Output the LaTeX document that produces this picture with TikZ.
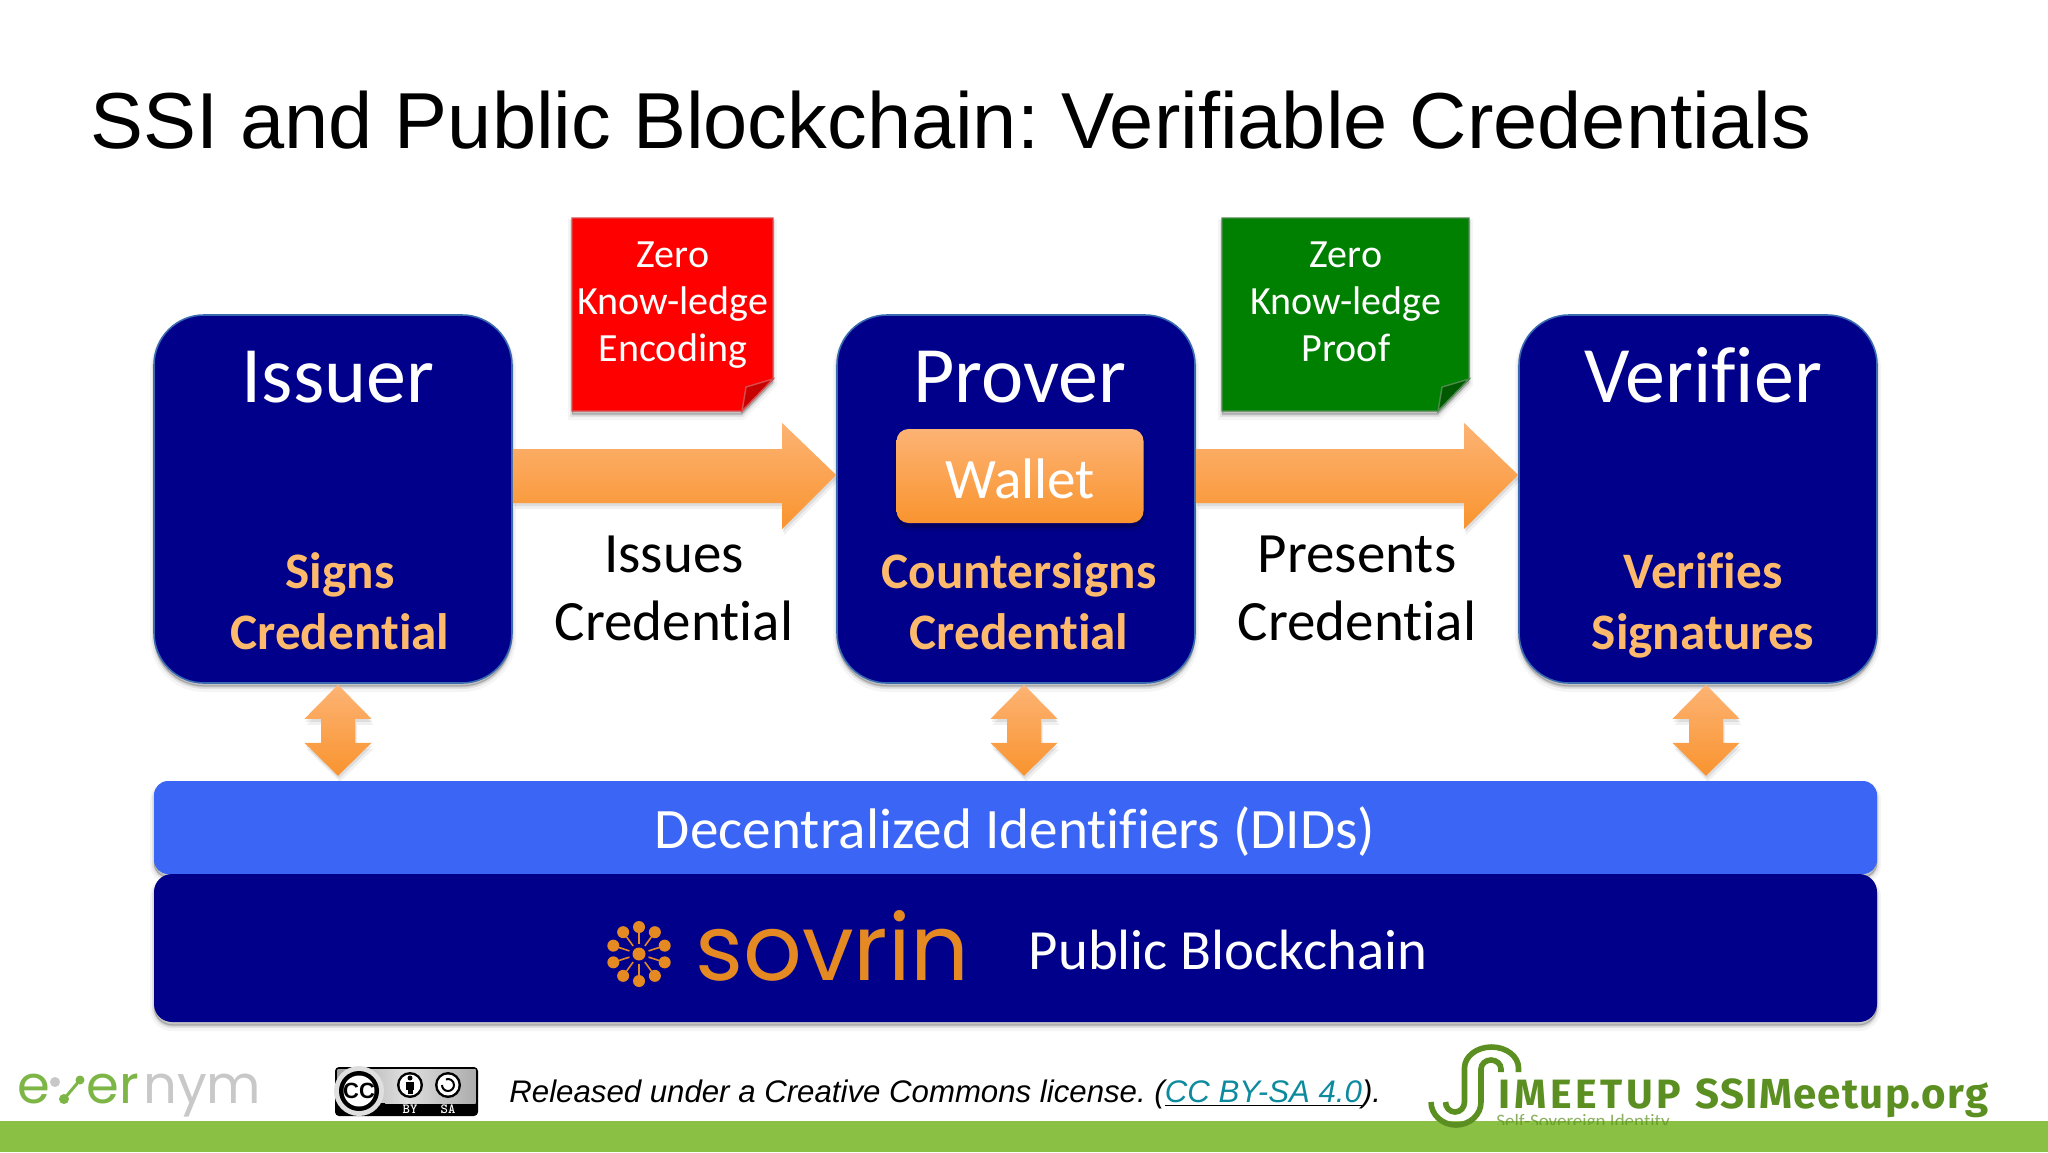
\documentclass[tikz,border=0pt]{standalone}
\usepackage{fontspec}
\usetikzlibrary{calc,shapes.geometric}
\setmainfont[Ligatures=NoCommon]{Carlito}
\newfontfamily\arial{Liberation Sans}
\newfontfamily\pop{Poppins}
\newfontfamily\fira{Fira Sans}
\newfontfamily\firawide[LetterSpace=9]{Fira Sans}
\newfontfamily\firasite[LetterSpace=3]{Fira Sans}
\frenchspacing
\definecolor{navy}{HTML}{00008B}
\definecolor{navyedge}{HTML}{3A6BB0}
\definecolor{didblue}{HTML}{3B66F5}
\definecolor{amber}{HTML}{FDB96C}
\definecolor{ortop}{HTML}{FDB374}
\definecolor{orbot}{HTML}{F9942F}
\definecolor{sovorange}{HTML}{E58A23}
\definecolor{barGreen}{HTML}{8AC043}
\definecolor{logoGreen}{HTML}{5C8F22}
\definecolor{evGreen}{HTML}{7DB646}
\definecolor{evGray}{HTML}{C8C8C8}
\definecolor{linkteal}{HTML}{0E8A9E}
\tikzset{
  softshadow/.style={
    preaction={draw=black,fill=black,opacity=.04,line width=4pt,transform canvas={yshift=-2.5pt}},
    preaction={draw=black,fill=black,opacity=.07,line width=2pt,transform canvas={yshift=-2pt}},
    preaction={draw=black,fill=black,opacity=.10,line width=.5pt,transform canvas={yshift=-1.5pt}}},
  flowshadow/.style={
    preaction={fill=black,opacity=.06,transform canvas={xshift=1pt,yshift=-3pt}},
    preaction={fill=black,opacity=.08,transform canvas={xshift=.5pt,yshift=-1.5pt}}},
  actorbox/.style={draw=navyedge,line width=.8pt,fill=navy,rounded corners=25pt,minimum width=179pt,minimum height=184pt,inner sep=0pt,softshadow},
  bigname/.style={anchor=base,text=white,font=\fontsize{40}{48}\selectfont},
  action/.style={anchor=base,text=amber,font=\fontsize{25.6}{30}\selectfont\bfseries},
  flowlabel/.style={text=black,align=center,font=\fontsize{28.5}{34}\selectfont},
  notetext/.style={text=white,align=center,font=\fontsize{20}{23.5}\selectfont},
  blockflow/.style={top color=ortop,bottom color=orbot,draw=none,flowshadow},
  evtext/.style={anchor=base west,inner sep=0pt,font=\fontsize{26.4}{30}\pop},
}
\newcommand{\rightblock}[2]{%
  \path[blockflow]
    ($(#1.east)+(0,-50)$) -- ($(#2.west)+(-54,-50)$) -- ($(#2.west)+(-54,-76)$)
    -- ($(#2.west)+(0,-24)$) -- ($(#2.west)+(-54,30)$) -- ($(#2.west)+(-54,4)$)
    -- ($(#1.east)+(0,4)$) -- cycle;}
\newcommand{\updown}[1]{%
  \path[blockflow]
    (#1) -- ++(33.5,34) -- ++(-16.5,0) -- ++(0,24) -- ++(16.5,0) -- ++(-33.5,33)
    -- ++(-33.5,-33) -- ++(16.5,0) -- ++(0,-24) -- ++(-16.5,0) -- cycle;}
\newcommand{\notebox}[4]{%
  \path[fill=#3,draw=#4!70!white,line width=.7pt,softshadow]
    (#1,218) -- (#2,218) -- (#2,379) -- ({#2-31},411) -- (#1,411) -- cycle;
  \path[fill=#4,draw=#4!70!white,line width=.7pt]
    (#2,379) -- ({#2-27},387) -- ({#2-31},411) -- cycle;}
\begin{document}
\begin{tikzpicture}[x=.5pt,y=-.5pt]
\useasboundingbox (0,0) rectangle (2048,1152);
\fill[white] (0,0) rectangle (2048,1152);
% title
\node[anchor=base west,inner sep=0pt,font=\fontsize{39.7}{48}\arial] (title) at (90,148) {SSI and Public Blockchain: Verifiable Credentials};
% actors
\node[actorbox] (issuer) at (333,499) {};
\node[actorbox] (prover) at (1016,499) {};
\node[actorbox] (verifier) at (1698,499) {};
\node[bigname] (issuerT) at (338,402) {Issuer};
\node[bigname] (proverT) at (1020,402) {Prover};
\node[bigname] (verifierT) at (1703,402) {Verifier};
\node[action] (a1) at (340,588) {Signs};
\node[action] (a2) at (340,649) {Credential};
\node[action] (b1) at (1019,588) {Countersigns};
\node[action] (b2) at (1019,649) {Credential};
\node[action] (c1) at (1703,588) {Verifies};
\node[action] (c2) at (1703,649) {Signatures};
% wallet
\node[top color=ortop,bottom color=orbot,rounded corners=6pt,minimum width=123.5pt,minimum height=47pt,inner sep=0pt,softshadow] (wallet) at (1020,476) {};
\node[anchor=base,text=white,font=\fontsize{28.6}{32}\selectfont] (walletT) at (1020,498) {Wallet};
% flow arrows
\rightblock{issuer}{prover}
\rightblock{prover}{verifier}
\node[flowlabel] (l1) at (674,588) {Issues\\Credential};
\node[flowlabel] (l2) at (1357,588) {Presents\\Credential};
% notes
\notebox{572}{773}{red}{red!78!black}
\notebox{1222}{1469}{green!50!black}{green!35!black}
\node[notetext] (n1) at (673,305) {Zero\\Know-ledge\\Encoding};
\node[notetext] (n2) at (1346,302) {Zero\\Know-ledge\\Proof};
% bars
\node[fill=didblue,rounded corners=7pt,minimum width=861.5pt,minimum height=46.5pt,inner sep=0pt,softshadow] (did) at (1015.5,827.5) {};
\node[fill=navy,rounded corners=9pt,minimum width=861.5pt,minimum height=74pt,inner sep=0pt,softshadow] (chain) at (1015.5,948) {};
\node[anchor=base,text=white,font=\fontsize{28.6}{32}\selectfont] (didT) at (1015,848) {Decentralized Identifiers (DIDs)};
\node[anchor=base,text=white,font=\fontsize{28.4}{32}\selectfont] (chainT) at (1228,969) {Public Blockchain};
% vertical arrows
\coordinate (u1) at ($(issuer.south)+(5,1)$);
\coordinate (u2) at ($(prover.south)+(8,1)$);
\coordinate (u3) at ($(verifier.south)+(8,1)$);
\updown{u1}
\updown{u2}
\updown{u3}
% sovrin logo
\begin{scope}[shift={(639,954)}]
  \fill[sovorange] (0,0) circle (6.5);
  \foreach \a in {90,54,18,-18,-54,-90,-126,-162,162,126}{
    \fill[sovorange] (\a:27) circle (6);
    \draw[sovorange,line width=.8pt] (\a:10) -- (\a:21);
  }
\end{scope}
\node[anchor=base west,inner sep=0pt,text=sovorange,font=\fontsize{46}{54}\pop] (sovrin) at (695,980) {sovrin};
% footer bar
\fill[barGreen] (0,1121) rectangle (2048,1152);
% evernym
\node[evtext,text=evGreen] (ev1) at (17,1103) {e};
\fill[evGray] (55,1082) circle (5);
\fill[evGreen] (64,1099) circle (5);
\fill[evGreen] (80,1080) circle (4.5);
\draw[evGreen,line width=1.5pt] (64,1099) -- (80,1080);
\node[evtext,text=evGreen] (ev2) at (86,1103) {er};
\node[evtext,text=evGray] (ev3) at (143,1103) {nym};
% CC badge
\fill[rounded corners=2pt,black] (335,1067) rectangle (478,1116);
\shade[left color=gray!70,right color=gray!65,middle color=gray!25] (337.5,1069.5) rectangle (475.5,1103);
\fill[gray!25] (359,1091) circle (25);
\begin{scope}
  \clip (337.5,1103) rectangle (385,1113);
  \fill[black] (336,1103) rectangle (390,1116);
  \fill[gray!25] (359,1091) circle (25);
\end{scope}
\fill[black] (359,1091) circle (20);
\fill[white] (359,1091) circle (15.5);
\node[inner sep=0pt,font=\fontsize{11}{12}\arial\bfseries] (cc) at (359,1091) {CC};
\fill[black] (410,1085) circle (13);
\fill[white] (410,1085) circle (10.5);
\fill[black] (410,1078) circle (2.5);
\fill[black] (406,1082) rectangle (414,1090);
\fill[black] (407.5,1090) rectangle (412.5,1094);
\fill[black] (448,1085) circle (13);
\fill[white] (448,1085) circle (10.5);
\draw[black,line width=1pt] (442,1085) arc (180:-110:6);
\node[text=white,inner sep=0pt,font=\fontsize{7}{8}\ttfamily\bfseries] (by) at (410,1109.5) {BY};
\node[text=white,inner sep=0pt,font=\fontsize{7}{8}\ttfamily\bfseries] (sa) at (448,1109.5) {SA};
% licence
\node[anchor=base west,inner sep=0pt,font=\fontsize{15.6}{20}\arial\itshape] (lic) at (509,1102) {Released under a Creative Commons license. (\underline{\color{linkteal}CC BY-SA 4.0}).};
% SSI logo
\draw[logoGreen,line width=2.8pt] (1431,1102) arc[start angle=180,end angle=360,x radius=25,y radius=-23] -- (1481,1069) arc[start angle=180,end angle=0,x radius=10,y radius=-9] -- (1501,1072);
\draw[logoGreen,line width=2.8pt] (1445.5,1102) arc[start angle=180,end angle=360,x radius=9.5,y radius=-10] -- (1464.5,1068) arc[start angle=180,end angle=0,x radius=27,y radius=-21] -- (1518.5,1072);
\node[anchor=base west,inner sep=0pt,text=logoGreen,font=\fontsize{20.5}{24}\firawide\bfseries] (meet) at (1498,1108) {IMEETUP};
\node[anchor=base west,inner sep=0pt,text=logoGreen,font=\fontsize{21}{24}\firasite\bfseries] (site) at (1695,1108) {SSIMeetup.org};
\begin{scope}
\clip (1490,1113) rectangle (1700,1124);
\node[anchor=base west,inner sep=0pt,text=logoGreen,opacity=.7,font=\fontsize{9.5}{11}\selectfont] (selfid) at (1496,1127) {Self-Sovereign Identity};
\end{scope}
\end{tikzpicture}
\end{document}
